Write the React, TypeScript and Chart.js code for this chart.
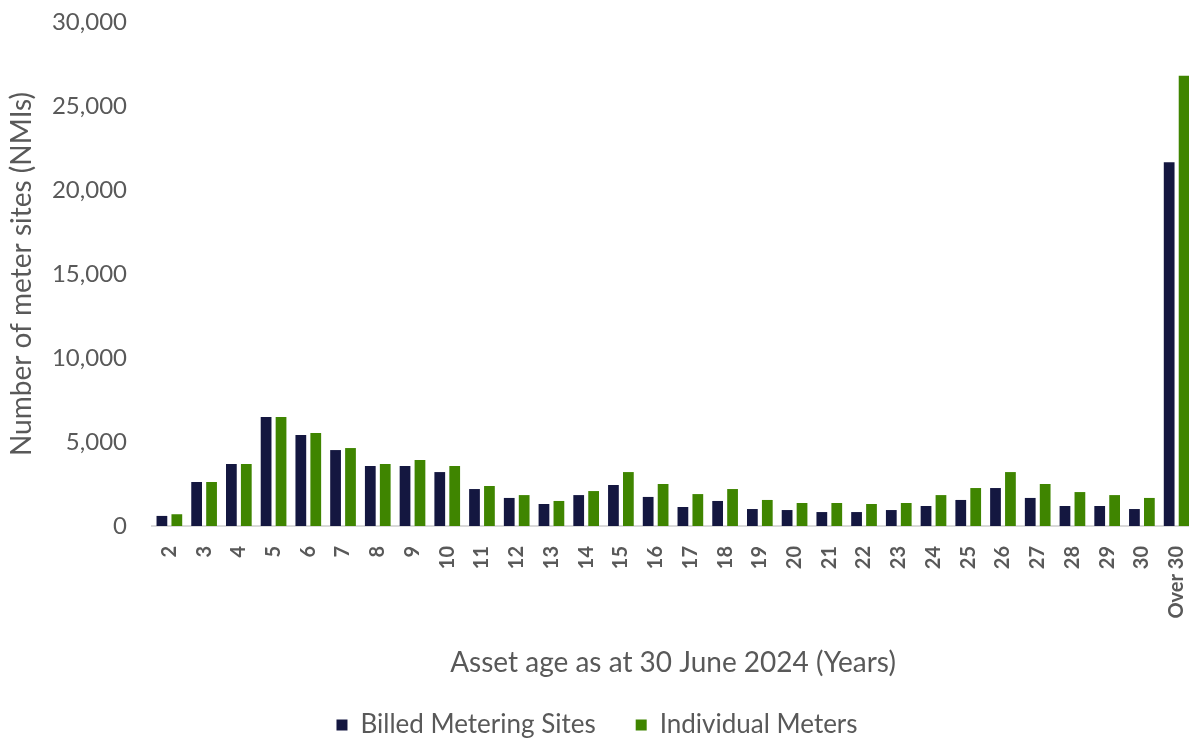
import React, { useEffect, useRef } from 'react';
import { Chart, registerables } from 'chart.js';

Chart.register(...registerables);

const categories = ['2', '3', '4', '5', '6', '7', '8', '9', '10', '11', '12', '13', '14', '15', '16', '17', '18', '19', '20', '21', '22', '23', '24', '25', '26', '27', '28', '29', '30', 'Over 30'];

const billedMeteringSites = [600, 2620, 3690, 6490, 5420, 4520, 3570, 3570, 3210, 2200, 1670, 1310, 1840, 2440, 1730, 1130, 1490, 1010, 950, 830, 830, 950, 1190, 1550, 2260, 1670, 1190, 1190, 1010, 21650];

const individualMeters = [700, 2620, 3690, 6490, 5540, 4640, 3690, 3930, 3570, 2380, 1840, 1490, 2080, 3210, 2500, 1900, 2200, 1550, 1370, 1370, 1310, 1370, 1840, 2260, 3210, 2500, 2020, 1840, 1670, 26800];

const seriesNames = ['Billed Metering Sites', 'Individual Meters'];
const xTitle = 'Asset age as at 30 June 2024 (Years)';
const yTitle = 'Number of meter sites (NMIs)';
const yMin = 0;
const yMax = 30000;
const yStep = 5000;

const FONT = 'Lato, "Open Sans", sans-serif';
const GREY = '#595959';

export default function App() {
  const ref = useRef<HTMLCanvasElement>(null);

  useEffect(() => {
    if (!ref.current) return;
    const chart = new Chart(ref.current, {
      type: 'bar',
      data: {
        labels: categories,
        datasets: [
          {
            label: seriesNames[0],
            data: billedMeteringSites,
            backgroundColor: '#141740',
            borderWidth: 0,
            barPercentage: 0.72,
            categoryPercentage: 0.86,
          },
          {
            label: seriesNames[1],
            data: individualMeters,
            backgroundColor: '#3f8500',
            borderWidth: 0,
            barPercentage: 0.72,
            categoryPercentage: 0.86,
          },
        ],
      },
      options: {
        responsive: false,
        animation: false,
        devicePixelRatio: 1,
        layout: { padding: { top: 22, right: 2, bottom: 0, left: 0 } },
        plugins: {
          tooltip: { enabled: false },
          legend: {
            position: 'bottom',
            labels: {
              boxWidth: 11,
              boxHeight: 11,
              padding: 40,
              color: GREY,
              font: { family: FONT, size: 26 },
            },
          },
        },
        scales: {
          x: {
            grid: { display: false, drawTicks: false },
            border: { display: true, color: '#d9d9d9', width: 2 },
            ticks: {
              autoSkip: false,
              maxRotation: 90,
              minRotation: 90,
              padding: 20,
              color: GREY,
              font: { family: FONT, size: 20, weight: 'bold' },
            },
            title: {
              display: true,
              text: xTitle,
              color: GREY,
              font: { family: FONT, size: 28, lineHeight: 1.0 },
              padding: { top: 0, bottom: -5 },
            },
            afterFit: (scale: any) => {
              scale.height = 146;
              scale.paddingLeft = 0;
              scale.paddingRight = 0;
            },
          },
          y: {
            min: yMin,
            max: yMax,
            grid: { display: false, drawTicks: false },
            border: { display: false },
            ticks: {
              stepSize: yStep,
              padding: 25,
              color: GREY,
              font: { family: FONT, size: 24 },
              callback: (v: any) => Number(v).toLocaleString('en-US'),
            },
            title: {
              display: true,
              text: yTitle,
              color: GREY,
              font: { family: FONT, size: 28, lineHeight: 1.0 },
              padding: { top: 8, bottom: 0 },
            },
            afterFit: (scale: any) => {
              scale.width = 152;
              scale.paddingTop = 0;
              scale.paddingBottom = 0;
            },
          },
        },
      },
    });
    return () => chart.destroy();
  }, []);

  return (
    <div style={{ position: 'fixed', left: 0, top: 0, width: 1189, height: 738, overflow: 'hidden', background: '#ffffff' }}>
      <canvas ref={ref} width={1196} height={748} style={{ display: 'block' }} />
    </div>
  );
}
